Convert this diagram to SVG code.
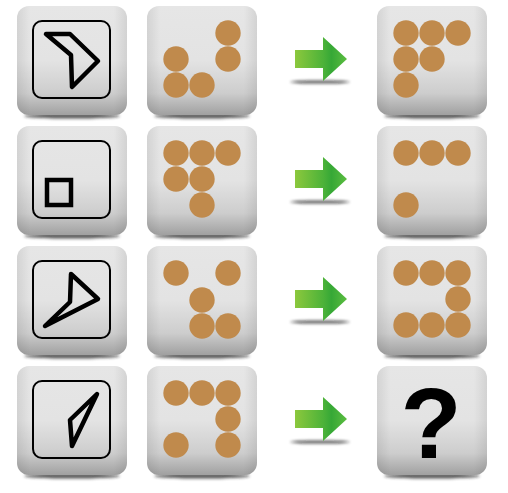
<svg xmlns="http://www.w3.org/2000/svg" xmlns:xlink="http://www.w3.org/1999/xlink" width="508" height="493" viewBox="0 0 508 493">
<defs>
<linearGradient id="tileV" x1="0" y1="0" x2="0" y2="1">
<stop offset="0" stop-color="#e6e6e6"/>
<stop offset="0.5" stop-color="#e3e3e3"/>
<stop offset="0.8" stop-color="#cdcdcd"/>
<stop offset="1" stop-color="#a0a0a0"/>
</linearGradient>
<linearGradient id="tileH" x1="0" y1="0" x2="1" y2="0">
<stop offset="0" stop-color="#000" stop-opacity="0.08"/>
<stop offset="0.12" stop-color="#000" stop-opacity="0"/>
<stop offset="0.88" stop-color="#000" stop-opacity="0"/>
<stop offset="1" stop-color="#000" stop-opacity="0.08"/>
</linearGradient>
<linearGradient id="arrowG" x1="0" y1="0" x2="1" y2="0">
<stop offset="0" stop-color="#8cc83d"/>
<stop offset="0.55" stop-color="#4cb239"/>
<stop offset="0.7" stop-color="#36a836"/>
<stop offset="1" stop-color="#5cbd40"/>
</linearGradient>
<filter id="blur" x="-20%" y="-200%" width="140%" height="500%">
<feGaussianBlur stdDeviation="1.6"/>
</filter>
<g id="tile">
<ellipse cx="55" cy="110" rx="48" ry="2.6" fill="#222" opacity="0.75" filter="url(#blur)"/>
<rect x="0" y="0" width="110" height="109" rx="12" fill="url(#tileV)"/>
<rect x="0" y="0" width="110" height="109" rx="12" fill="url(#tileH)"/>
</g>
<g id="arrow">
<ellipse cx="320" cy="82" rx="30" ry="1.6" fill="#111" opacity="0.7" filter="url(#blur)"/>
<path d="M295,50 H323 V37 L347,59 L323,81 V68 H295 Z" fill="url(#arrowG)"/>
</g>
</defs>
<style>
.frame{fill:none;stroke:#000;stroke-width:2}
.fig{fill:none;stroke:#000;stroke-width:4.5;stroke-linejoin:round;stroke-linecap:round}
.dot{fill:#c08a4c}
.q{font-family:"Liberation Sans",Arial,sans-serif;font-weight:bold;font-size:100px;fill:#000}
</style>

<!-- Row 1 -->
<g id="r1c1" transform="translate(17,6)">
<use xlink:href="#tile"/>
<rect class="frame" x="16" y="15" width="77" height="77" rx="9"/>
<polygon class="fig" points="29,28 53,28 81,55 55,81 54,49"/>
</g>
<g id="r1c2" transform="translate(147,6)">
<use xlink:href="#tile"/>
<circle class="dot" cx="81" cy="27" r="12.7"/>
<circle class="dot" cx="81" cy="53" r="12.7"/>
<circle class="dot" cx="29" cy="53" r="12.7"/>
<circle class="dot" cx="29" cy="79" r="12.7"/>
<circle class="dot" cx="55" cy="79" r="12.7"/>
</g>
<g id="r1c4" transform="translate(377,6)">
<use xlink:href="#tile"/>
<circle class="dot" cx="29" cy="27" r="12.7"/>
<circle class="dot" cx="55" cy="27" r="12.7"/>
<circle class="dot" cx="81" cy="27" r="12.7"/>
<circle class="dot" cx="29" cy="53" r="12.7"/>
<circle class="dot" cx="55" cy="53" r="12.7"/>
<circle class="dot" cx="29" cy="79" r="12.7"/>
</g>

<!-- Row 2 -->
<g id="r2c1" transform="translate(17,126)">
<use xlink:href="#tile"/>
<rect class="frame" x="16" y="15" width="77" height="77" rx="9"/>
<rect x="30" y="54" width="24" height="25" fill="none" stroke="#000" stroke-width="4.5"/>
</g>
<g id="r2c2" transform="translate(147,126)">
<use xlink:href="#tile"/>
<circle class="dot" cx="29" cy="27" r="12.7"/>
<circle class="dot" cx="55" cy="27" r="12.7"/>
<circle class="dot" cx="81" cy="27" r="12.7"/>
<circle class="dot" cx="29" cy="53" r="12.7"/>
<circle class="dot" cx="55" cy="53" r="12.7"/>
<circle class="dot" cx="55" cy="79" r="12.7"/>
</g>
<g id="r2c4" transform="translate(377,126)">
<use xlink:href="#tile"/>
<circle class="dot" cx="29" cy="27" r="12.7"/>
<circle class="dot" cx="55" cy="27" r="12.7"/>
<circle class="dot" cx="81" cy="27" r="12.7"/>
<circle class="dot" cx="29" cy="79" r="12.7"/>
</g>

<!-- Row 3 -->
<g id="r3c1" transform="translate(17,246)">
<use xlink:href="#tile"/>
<rect class="frame" x="16" y="15" width="77" height="77" rx="9"/>
<polygon class="fig" points="54,28 81,53 28,80 53,56"/>
</g>
<g id="r3c2" transform="translate(147,246)">
<use xlink:href="#tile"/>
<circle class="dot" cx="29" cy="27" r="12.7"/>
<circle class="dot" cx="81" cy="27" r="12.7"/>
<circle class="dot" cx="55" cy="54" r="12.7"/>
<circle class="dot" cx="55" cy="80" r="12.7"/>
<circle class="dot" cx="81" cy="80" r="12.7"/>
</g>
<g id="r3c4" transform="translate(377,246)">
<use xlink:href="#tile"/>
<circle class="dot" cx="29" cy="27" r="12.7"/>
<circle class="dot" cx="55" cy="27" r="12.7"/>
<circle class="dot" cx="81" cy="27" r="12.7"/>
<circle class="dot" cx="81" cy="53" r="12.7"/>
<circle class="dot" cx="29" cy="79" r="12.7"/>
<circle class="dot" cx="55" cy="79" r="12.7"/>
<circle class="dot" cx="81" cy="79" r="12.7"/>
</g>

<!-- Row 4 -->
<g id="r4c1" transform="translate(17,366)">
<use xlink:href="#tile"/>
<rect class="frame" x="16" y="15" width="77" height="77" rx="9"/>
<polygon class="fig" points="80,28 53,54 55,80"/>
</g>
<g id="r4c2" transform="translate(147,366)">
<use xlink:href="#tile"/>
<circle class="dot" cx="29" cy="27" r="12.7"/>
<circle class="dot" cx="55" cy="27" r="12.7"/>
<circle class="dot" cx="81" cy="27" r="12.7"/>
<circle class="dot" cx="81" cy="53" r="12.7"/>
<circle class="dot" cx="29" cy="79" r="12.7"/>
<circle class="dot" cx="81" cy="79" r="12.7"/>
</g>
<g id="r4c4" transform="translate(377,366)">
<use xlink:href="#tile"/>
<text class="q" x="54" y="92" text-anchor="middle">?</text>
</g>

<g id="connectors">
<use xlink:href="#arrow"/>
<use xlink:href="#arrow" y="120"/>
<use xlink:href="#arrow" y="240"/>
<use xlink:href="#arrow" y="360"/>
</g>
</svg>
